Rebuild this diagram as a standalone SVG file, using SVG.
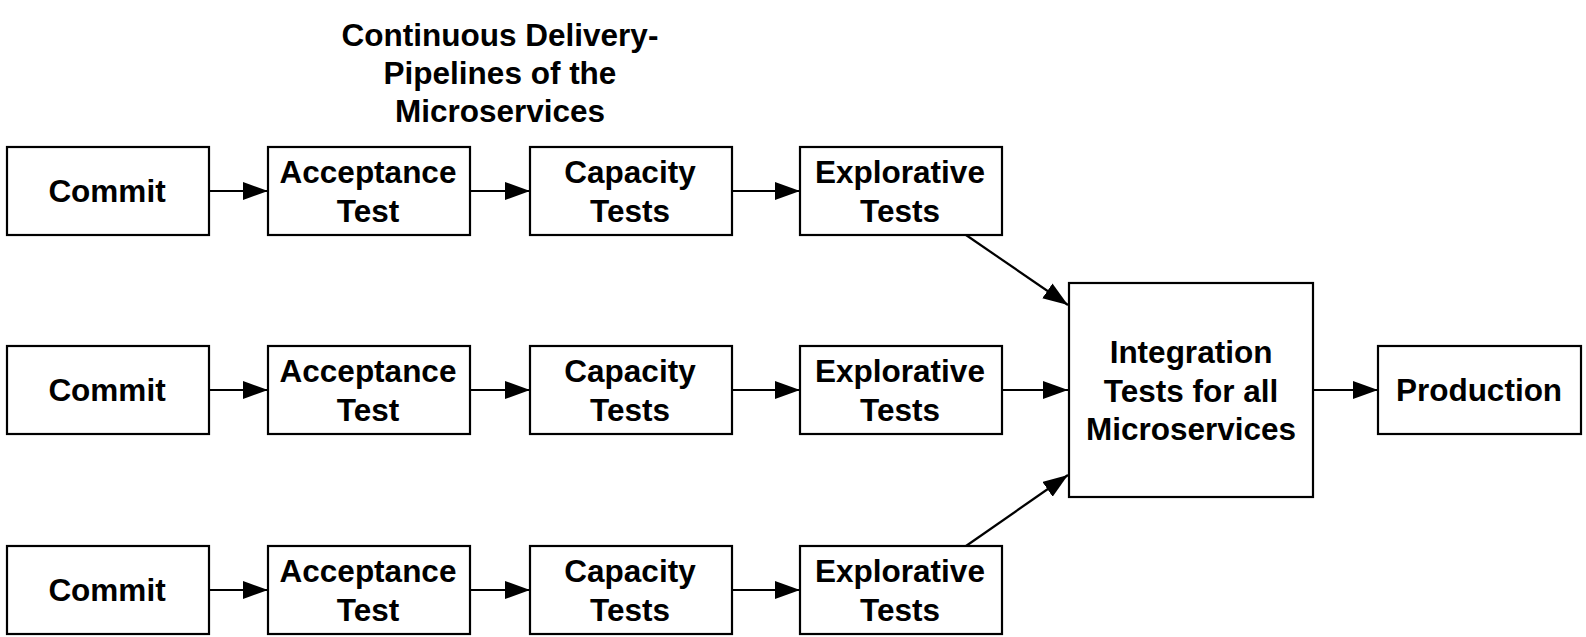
<svg xmlns="http://www.w3.org/2000/svg" width="1586" height="637" viewBox="0 0 1586 637">
<style>
.box{fill:#fff;stroke:#000;stroke-width:2.2}
.t{font-family:"Liberation Sans",Arial,sans-serif;font-weight:bold;font-size:31.5px;fill:#000;text-anchor:middle}
.c{stroke:#000;stroke-width:2.2;fill:none;marker-end:url(#ah)}
</style>
<defs>
<marker id="ah" markerUnits="userSpaceOnUse" markerWidth="26" markerHeight="20" refX="25" refY="9" orient="auto">
<path d="M0,0 L25,9 L0,18 z" fill="#000"/>
</marker>
</defs>
<rect width="1586" height="637" fill="#fff"/>
<g id="title">
<text class="t" x="500" y="46">Continuous Delivery-</text>
<text class="t" x="500" y="84">Pipelines of the</text>
<text class="t" x="500" y="122">Microservices</text>
</g>
<g id="commit1"><rect class="box" x="7" y="147" width="202" height="88"/><text class="t" x="107" y="202">Commit</text></g>
<g id="accept1"><rect class="box" x="268" y="147" width="202" height="88"/><text class="t" x="368" y="183">Acceptance</text><text class="t" x="368" y="222">Test</text></g>
<g id="capacity1"><rect class="box" x="530" y="147" width="202" height="88"/><text class="t" x="630" y="183">Capacity</text><text class="t" x="630" y="222">Tests</text></g>
<g id="explore1"><rect class="box" x="800" y="147" width="202" height="88"/><text class="t" x="900" y="183">Explorative</text><text class="t" x="900" y="222">Tests</text></g>
<g id="commit2"><rect class="box" x="7" y="346" width="202" height="88"/><text class="t" x="107" y="401">Commit</text></g>
<g id="accept2"><rect class="box" x="268" y="346" width="202" height="88"/><text class="t" x="368" y="382">Acceptance</text><text class="t" x="368" y="421">Test</text></g>
<g id="capacity2"><rect class="box" x="530" y="346" width="202" height="88"/><text class="t" x="630" y="382">Capacity</text><text class="t" x="630" y="421">Tests</text></g>
<g id="explore2"><rect class="box" x="800" y="346" width="202" height="88"/><text class="t" x="900" y="382">Explorative</text><text class="t" x="900" y="421">Tests</text></g>
<g id="commit3"><rect class="box" x="7" y="546" width="202" height="88"/><text class="t" x="107" y="601">Commit</text></g>
<g id="accept3"><rect class="box" x="268" y="546" width="202" height="88"/><text class="t" x="368" y="582">Acceptance</text><text class="t" x="368" y="621">Test</text></g>
<g id="capacity3"><rect class="box" x="530" y="546" width="202" height="88"/><text class="t" x="630" y="582">Capacity</text><text class="t" x="630" y="621">Tests</text></g>
<g id="explore3"><rect class="box" x="800" y="546" width="202" height="88"/><text class="t" x="900" y="582">Explorative</text><text class="t" x="900" y="621">Tests</text></g>
<g id="integration"><rect class="box" x="1069" y="283" width="244" height="214"/><text class="t" x="1191" y="363">Integration</text><text class="t" x="1191" y="402">Tests for all</text><text class="t" x="1191" y="440">Microservices</text></g>
<g id="production"><rect class="box" x="1378" y="346" width="203" height="88"/><text class="t" x="1479" y="401">Production</text></g>
<g id="connectors">
<line class="c" x1="209" y1="191" x2="268" y2="191"/>
<line class="c" x1="470" y1="191" x2="530" y2="191"/>
<line class="c" x1="732" y1="191" x2="800" y2="191"/>
<line class="c" x1="209" y1="390" x2="268" y2="390"/>
<line class="c" x1="470" y1="390" x2="530" y2="390"/>
<line class="c" x1="732" y1="390" x2="800" y2="390"/>
<line class="c" x1="209" y1="590" x2="268" y2="590"/>
<line class="c" x1="470" y1="590" x2="530" y2="590"/>
<line class="c" x1="732" y1="590" x2="800" y2="590"/>
<line class="c" x1="966" y1="235" x2="1068" y2="305"/>
<line class="c" x1="1002" y1="390" x2="1068" y2="390"/>
<line class="c" x1="966" y1="546" x2="1068" y2="475"/>
<line class="c" x1="1313" y1="390" x2="1378" y2="390"/>
</g>
</svg>
